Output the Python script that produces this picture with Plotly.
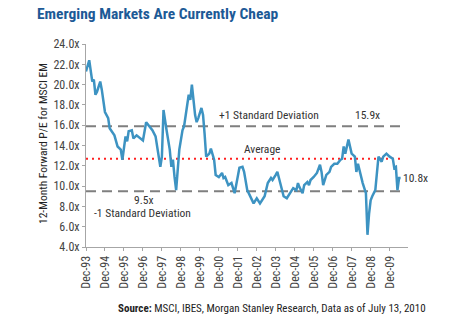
import plotly.graph_objects as go

dates = ["1993-12","1994-02","1994-04","1994-05","1994-06","1994-07","1994-09","1994-10","1994-12",
"1995-02","1995-03","1995-06","1995-08","1995-10","1995-11","1996-01","1996-02","1996-03","1996-05",
"1996-06","1996-08","1996-10","1996-12","1997-02","1997-04","1997-06","1997-08","1997-10","1997-11",
"1997-12","1998-01","1998-03","1998-05","1998-06","1998-07","1998-08","1998-09","1998-11","1998-12",
"1999-01","1999-02","1999-04","1999-05","1999-06","1999-07","1999-08","1999-09","1999-10","1999-11",
"2000-01","2000-02","2000-03","2000-04","2000-06","2000-07","2000-09","2000-10","2000-12","2001-02",
"2001-03","2001-04","2001-06","2001-08","2001-10","2001-11","2002-01","2002-03","2002-04","2002-06",
"2002-08","2002-10","2002-12","2003-02","2003-05","2003-06","2003-07","2003-09","2003-10","2003-12",
"2004-01","2004-02","2004-03","2004-05","2004-07","2004-09","2004-11","2005-01","2005-02","2005-03",
"2005-05","2005-06","2005-08","2005-09","2005-10","2005-12","2006-02","2006-04","2006-05","2006-06",
"2006-08","2006-10","2006-11","2007-01","2007-03","2007-05","2007-06","2007-07","2007-08","2007-10",
"2007-11","2007-12","2008-02","2008-03","2008-04","2008-06","2008-07","2008-09","2008-10","2008-11",
"2008-12","2009-01","2009-03","2009-04","2009-05","2009-07","2009-08","2009-10","2009-12","2010-02",
"2010-03","2010-04","2010-05","2010-06","2010-07"]
pe = [21.3,22.4,20.3,20.5,19.0,19.3,20.3,19.5,17.3,
16.7,15.7,15.0,13.9,13.6,12.6,14.9,14.4,15.4,15.5,
14.7,15.0,14.7,14.5,16.3,15.9,15.5,14.9,12.9,11.9,
12.9,17.5,15.5,13.6,11.9,12.6,10.9,9.6,13.6,14.5,
15.5,15.9,18.0,19.0,18.5,20.0,18.5,17.0,16.3,16.7,
17.7,17.0,15.2,12.9,13.2,13.7,12.6,11.1,10.9,11.3,
10.8,10.9,10.1,10.3,9.3,10.3,11.8,11.9,11.4,9.6,
9.0,8.3,8.8,8.3,9.0,9.6,10.3,10.8,10.6,11.1,
11.4,10.8,10.3,9.0,8.8,9.3,9.8,9.6,10.3,9.9,
9.3,10.1,10.4,10.1,10.6,10.9,11.3,12.1,11.4,10.1,
11.1,11.4,11.9,12.2,12.2,12.6,12.7,13.9,13.2,14.6,
13.9,13.2,12.9,11.4,12.2,10.9,10.3,9.3,5.2,7.3,
8.6,9.0,9.6,11.3,12.9,12.4,12.9,13.2,12.9,12.7,
11.8,11.9,9.6,10.8,10.8]

plus_sd = 15.9
average = 12.7
minus_sd = 9.5
last_val = 10.8
tick_dates = ["%d-12-01" % y for y in range(1993, 2010)]
tick_text = ["Dec-%02d" % (y % 100) for y in range(1993, 2010)]
y_ticks = [4, 6, 8, 10, 12, 14, 16, 18, 20, 22, 24]
y_text = ["%.1fx" % v for v in y_ticks]

NARROW = "Liberation Sans Narrow, Arial Narrow, Roboto Condensed, Roboto, sans-serif"
ends = [dates[0], dates[-1]]

W, H = 471, 324
L, R, T, B = 86, 63, 44, 77
PW, PH = W - L - R, H - T - B

fig = go.Figure()
fig.add_trace(go.Scatter(x=ends, y=[plus_sd, plus_sd], mode="lines",
                         line=dict(color="#7f7f7f", width=2, dash="10px,6px"), hoverinfo="skip"))
fig.add_trace(go.Scatter(x=ends, y=[minus_sd, minus_sd], mode="lines",
                         line=dict(color="#7f7f7f", width=2, dash="10px,6px"), hoverinfo="skip"))
fig.add_trace(go.Scatter(x=ends, y=[average, average], mode="lines",
                         line=dict(color="#ff2020", width=2, dash="2px,4px"), hoverinfo="skip"))
fig.add_trace(go.Scatter(x=dates, y=pe, mode="lines",
                         line=dict(color="#3d93c2", width=2.5)))

ann_font = dict(family=NARROW, size=11.5, color="#333333")
anns = [
    dict(x="2000-11-01", y=plus_sd, text="+1 Standard Deviation", xanchor="left", yanchor="bottom", yshift=2),
    dict(x="2008-01-01", y=plus_sd, text="15.9x", xanchor="left", yanchor="bottom", yshift=2),
    dict(x="2002-03-01", y=average, text="Average", xanchor="left", yanchor="bottom", yshift=1),
    dict(x="1996-05-01", y=minus_sd, text="9.5x", xanchor="left", yanchor="top", yshift=0),
    dict(x="1994-04-01", y=minus_sd, text="-1 Standard Deviation", xanchor="left", yanchor="top", yshift=-13),
    dict(x="2010-07-10", y=last_val, text="10.8x", xanchor="left", yanchor="middle"),
]
for a in anns:
    a.update(xref="x", yref="y", showarrow=False, font=ann_font)
    fig.add_annotation(**a)

fig.add_annotation(x=(43 - L) / PW, y=(H - B - 144) / PH, xref="paper", yref="paper",
                   text="12-Month Forward P/E for MSCI EM", xanchor="center", yanchor="middle",
                   showarrow=False, textangle=-90, font=dict(family=NARROW, size=11.5, color="#222222"))

fig.add_annotation(x=(272 - L) / PW, y=(H - B - 308) / PH, xref="paper", yref="paper",
                   xanchor="center", yanchor="middle",
                   text="<b>Source:</b> MSCI, IBES, Morgan Stanley Research, Data as of July 13, 2010",
                   showarrow=False, font=dict(family=NARROW, size=11, color="#222222"))

fig.update_layout(
    width=W, height=H,
    margin=dict(l=L, r=R, t=T, b=B),
    paper_bgcolor="white", plot_bgcolor="white",
    showlegend=False,
    title=dict(text="<b>Emerging Markets Are Currently Cheap</b>", x=37/W, xanchor="left",
               y=1-14/H, yanchor="middle",
               font=dict(family=NARROW, size=15.5, color="#1d5a96")),
    xaxis=dict(range=["1993-12-01", "2010-11-20"], tickvals=tick_dates, ticktext=tick_text,
               tickangle=-90, showgrid=False, zeroline=False, showline=True, linecolor="#a6a6a6",
               linewidth=1, ticks="outside", ticklen=3, tickcolor="#a6a6a6",
               tickfont=dict(family=NARROW, size=12, color="#444444")),
    yaxis=dict(range=[4, 24], tickvals=y_ticks, ticktext=y_text, showgrid=False, zeroline=False,
               showline=True, linecolor="#a6a6a6", linewidth=1, ticks="outside", ticklen=3,
               tickcolor="#a6a6a6", tickfont=dict(family=NARROW, size=12, color="#444444")),
)

fig.write_html("out.html")
